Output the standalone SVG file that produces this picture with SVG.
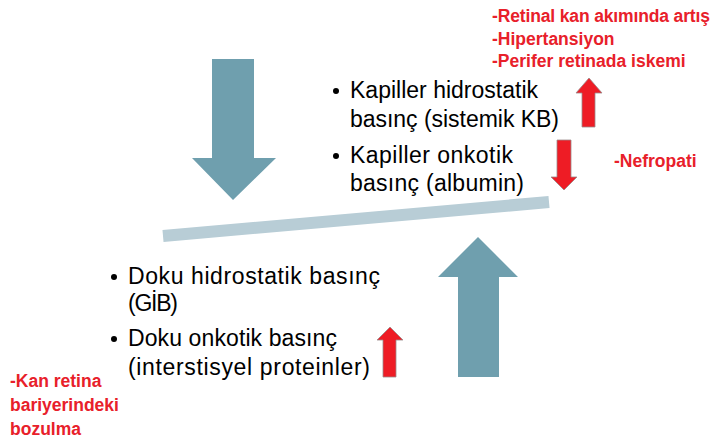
<svg xmlns="http://www.w3.org/2000/svg" width="713" height="443" viewBox="0 0 713 443">
<style>
.big{fill:#6f9fae;}
.red{fill:#ee1c25;stroke:#9a8a8a;stroke-width:0.8;}
.t{font-family:"Liberation Sans",Arial,sans-serif;font-size:23px;fill:#000;}
.r{font-family:"Liberation Sans",Arial,sans-serif;font-size:17.5px;font-weight:bold;fill:#e8202a;}
</style>
<rect width="713" height="443" fill="#fff"/>
<g id="arrow-down-big"><polygon class="big" points="212,59 254,59 254,158 276,158 233,200 192,158 212,158"/></g>
<g id="arrow-up-big"><polygon class="big" points="458,377 499,377 499,277 518,277 478,237 438,277 458,277"/></g>
<g id="balance-bar"><line x1="163" y1="236" x2="549" y2="202" stroke="#b8cdd6" stroke-width="12"/></g>
<g id="red-up-top"><polygon class="red" points="582,127 595,127 595,93 602,93 589,78 576,93 582,93"/></g>
<g id="red-down"><polygon class="red" points="557,140 571,140 571,177 577,177 564,190 551,177 557,177"/></g>
<g id="red-up-bottom"><polygon class="red" points="383,377 396,377 396,340 403,340 390,327 377,340 383,340"/></g>
<g id="capillary-text">
<circle cx="336" cy="91" r="3"/>
<text class="t" x="350" y="98" textLength="188">Kapiller hidrostatik</text>
<text class="t" x="350" y="127" textLength="209">basınç (sistemik KB)</text>
<circle cx="336" cy="156" r="3"/>
<text class="t" x="350" y="163" textLength="163">Kapiller onkotik</text>
<text class="t" x="350" y="191" textLength="174">basınç (albumin)</text>
</g>
<g id="tissue-text">
<circle cx="114" cy="277" r="3"/>
<text class="t" x="128" y="284" textLength="252">Doku hidrostatik basınç</text>
<text class="t" x="128" y="311" textLength="50">(GİB)</text>
<circle cx="114" cy="339" r="3"/>
<text class="t" x="128" y="346" textLength="209">Doku onkotik basınç</text>
<text class="t" x="128" y="375" textLength="242">(interstisyel proteinler)</text>
</g>
<g id="red-labels">
<text class="r" x="492" y="22" textLength="218">-Retinal kan akımında artış</text>
<text class="r" x="492" y="45">-Hipertansiyon</text>
<text class="r" x="492" y="67">-Perifer retinada iskemi</text>
<text class="r" x="614" y="167">-Nefropati</text>
<text class="r" x="10" y="387">-Kan retina</text>
<text class="r" x="10" y="411">bariyerindeki</text>
<text class="r" x="10" y="435">bozulma</text>
</g>
</svg>
